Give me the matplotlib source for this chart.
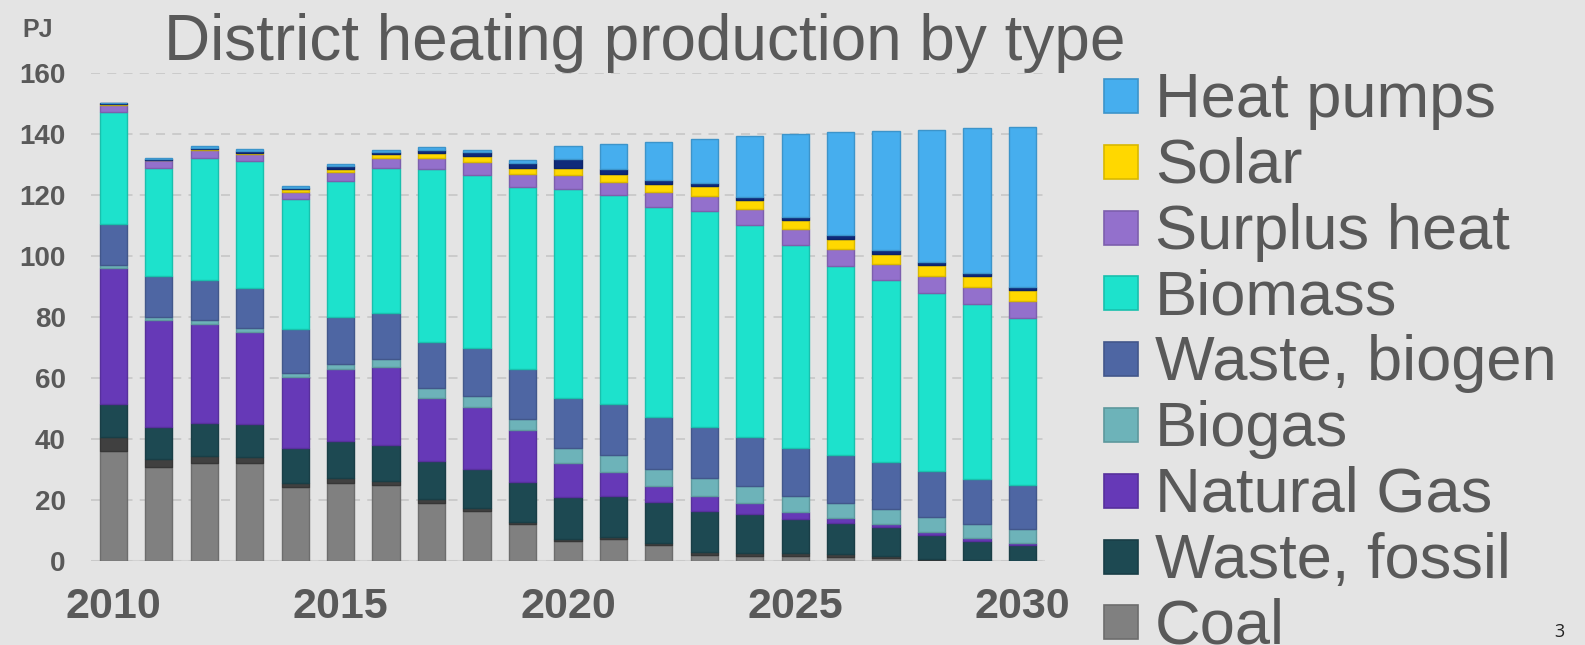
import numpy as np
import matplotlib
matplotlib.use("Agg")
import matplotlib.pyplot as plt
from matplotlib.patches import Rectangle
from matplotlib.colors import to_rgb

plt.rcParams['font.family'] = ['Liberation Sans', 'DejaVu Sans']

years = list(range(2010, 2031))

# PJ (bottom to top of stack)
coal = [36.1, 30.9, 32.0, 32.0, 24.4, 25.7, 24.9, 19.1, 16.4, 12.0, 6.6,
        7.1, 5.2, 2.0, 1.7, 1.7, 1.4, 0.9, 0.3, 0.1, 0.0]
oil = [4.7, 2.4, 2.4, 2.0, 1.3, 1.4, 1.3, 1.1, 1.1, 0.9, 0.5,
       0.7, 0.8, 0.8, 0.8, 0.8, 0.9, 0.8, 0.3, 0.1, 0.0]
waste_fossil = [10.6, 10.7, 10.7, 10.8, 11.3, 12.2, 12.0, 12.6, 12.6, 13.1, 13.8,
                13.6, 13.4, 13.7, 12.9, 11.3, 10.3, 9.4, 7.9, 6.4, 5.2]
natural_gas = [44.6, 35.0, 32.5, 30.4, 23.3, 23.8, 25.5, 20.5, 20.5, 16.9, 11.1,
               7.7, 5.2, 4.7, 3.5, 2.4, 1.4, 1.0, 1.1, 0.9, 0.8]
biogas = [0.9, 1.1, 1.4, 1.1, 1.5, 1.6, 2.4, 3.3, 3.5, 3.8, 5.1,
          5.8, 5.7, 6.0, 5.8, 5.1, 5.1, 5.0, 4.9, 4.6, 4.4]
waste_biogen = [13.7, 13.3, 13.3, 13.1, 14.2, 15.3, 15.1, 15.3, 15.6, 16.1, 16.5,
                16.6, 16.9, 16.7, 16.1, 15.6, 15.6, 15.3, 15.0, 14.8, 14.5]
biomass = [36.7, 35.3, 40.0, 41.9, 42.6, 44.5, 47.5, 56.6, 57.0, 59.7, 68.5,
           68.6, 68.9, 70.9, 69.4, 66.7, 62.1, 59.6, 58.5, 57.4, 54.9]
surplus_heat = [2.2, 2.7, 2.4, 2.2, 2.5, 3.0, 3.3, 3.7, 4.0, 4.3, 4.4,
                4.2, 4.9, 5.0, 5.2, 5.1, 5.5, 5.5, 5.5, 5.5, 5.5]
solar = [0.2, 0.1, 0.3, 0.4, 0.8, 0.9, 1.4, 1.7, 2.1, 2.2, 2.4,
         2.6, 2.7, 3.0, 3.0, 3.1, 3.3, 3.3, 3.4, 3.6, 3.6]
el_boilers = [0.6, 0.2, 0.5, 0.6, 0.4, 1.0, 0.8, 1.0, 1.2, 1.6, 2.8,
              1.7, 1.3, 1.1, 1.1, 1.1, 1.3, 1.1, 1.1, 0.9, 0.8]
heat_pumps = [0.0, 0.4, 0.5, 0.5, 0.5, 0.7, 0.5, 0.7, 0.9, 0.9, 4.3,
              8.1, 12.3, 14.4, 19.7, 27.1, 33.6, 39.0, 43.4, 47.8, 52.6]

stack = [
    ("Coal", coal, "#808080"),
    ("Oil", oil, "#404040"),
    ("Waste, fossil", waste_fossil, "#1d4952"),
    ("Natural Gas", natural_gas, "#6639b7"),
    ("Biogas", biogas, "#6db3b9"),
    ("Waste, biogen", waste_biogen, "#4e66a3"),
    ("Biomass", biomass, "#1de2cc"),
    ("Surplus heat", surplus_heat, "#9370cc"),
    ("Solar", solar, "#ffd800"),
    ("Electric boilers", el_boilers, "#0f2a7a"),
    ("Heat pumps", heat_pumps, "#46aeee"),
]
legend_names = ["Heat pumps", "Solar", "Surplus heat", "Biomass", "Waste, biogen",
                "Biogas", "Natural Gas", "Waste, fossil", "Coal"]

bg = "#e4e4e4"
txt = "#595959"

def darker(c, f=0.85):
    r, g, b = to_rgb(c)
    return (r * f, g * f, b * f)

fig = plt.figure(figsize=(15.85, 6.45), dpi=100, facecolor=bg)
ax = fig.add_axes([0.0572, 0.1302, 0.6022, 0.7566], facecolor=bg)

x = np.array(years)
bottom = np.zeros(len(years))
for name, vals, col in stack:
    v = np.array(vals)
    ax.bar(x, v, width=0.6, bottom=bottom, color=col,
           edgecolor=darker(col), linewidth=1.0, zorder=3)
    bottom += v

ax.set_xlim(2009.5, 2030.5)
ax.set_ylim(0, 160)
ax.set_yticks(np.arange(0, 161, 20))
ax.set_xticks([2010, 2015, 2020, 2025, 2030])
ax.yaxis.grid(True, linestyle=(0, (5, 4)), color="#c9c9c9", linewidth=1.3, zorder=0)
ax.axhline(0, color="#d2d2d2", linewidth=1.5, zorder=1)
for s in ax.spines.values():
    s.set_visible(False)
ax.tick_params(axis="y", length=0, pad=18, labelsize=20, labelcolor=txt)
ax.tick_params(axis="x", length=0, pad=19, labelsize=31, labelcolor=txt)
for lab in ax.get_yticklabels() + ax.get_xticklabels():
    lab.set_fontweight("bold")

fig.text(0.0139, 0.953, "PJ", fontsize=18, fontweight="bold", color=txt,
         ha="left", va="center")
fig.text(0.4065, 0.907, "District heating production by type", fontsize=46,
         color=txt, ha="center", va="baseline")

# legend drawn by hand to get the tight row spacing of the original
colors = {name: col for name, _, col in stack}
W, H = 1585.0, 645.0
for i, name in enumerate(legend_names):
    cy = 96 + 65.8 * i
    col = colors[name]
    fig.patches.append(Rectangle((1104 / W, 1 - (cy + 17) / H), 34 / W, 34 / H,
                                 transform=fig.transFigure, facecolor=col,
                                 edgecolor=darker(col), linewidth=1.2))
    fig.text(1155 / W, 1 - (cy + 21) / H, name, fontsize=45.5, color=txt,
             ha="left", va="baseline")

fig.text(1559 / W, 1 - 637 / H, "3", fontsize=13, color="#222222",
         ha="center", va="baseline", family=["Open Sans", "DejaVu Sans"])

fig.savefig("out.png", dpi=100, facecolor=bg)
